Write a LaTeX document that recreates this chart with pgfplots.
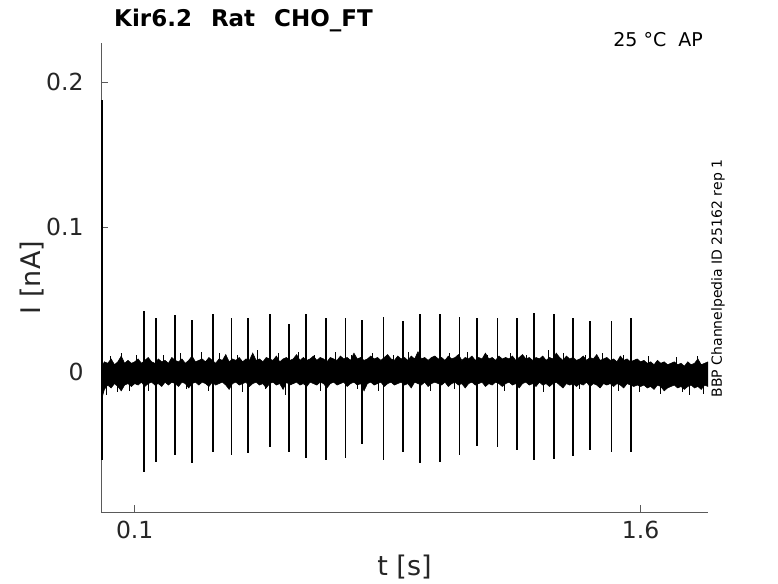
\documentclass[border=0pt]{standalone}
\usepackage{pgfplots}
\pgfplotsset{compat=1.18}
\usepackage{pgfplotstable}
\usepgfplotslibrary{fillbetween}
\usepackage{fontspec}
\setmainfont{DejaVu Sans}
\definecolor{axisgray}{HTML}{5A5A5A}
\definecolor{txt}{HTML}{262626}

\pgfplotstableread{
t up lo
0.003 0.004 -0.018
0.01 0.007 -0.012
0.02 0.006 -0.009
0.03 0.009 -0.011
0.04 0.005 -0.008
0.05 0.007 -0.010
0.06 0.011 -0.013
0.07 0.006 -0.009
0.08 0.008 -0.008
0.09 0.006 -0.010
0.10 0.007 -0.008
0.11 0.009 -0.009
0.12 0.006 -0.007
0.13 0.008 -0.010
0.14 0.010 -0.008
0.15 0.007 -0.007
0.16 0.006 -0.009
0.17 0.009 -0.008
0.18 0.007 -0.010
0.19 0.008 -0.007
0.20 0.006 -0.009
0.21 0.010 -0.007
0.22 0.008 -0.008
0.23 0.007 -0.010
0.24 0.009 -0.007
0.25 0.006 -0.008
0.26 0.008 -0.011
0.27 0.011 -0.008
0.28 0.007 -0.007
0.29 0.008 -0.009
0.30 0.009 -0.007
0.31 0.007 -0.008
0.32 0.010 -0.010
0.33 0.008 -0.007
0.34 0.006 -0.009
0.35 0.009 -0.008
0.36 0.008 -0.007
0.37 0.012 -0.009
0.38 0.007 -0.012
0.39 0.009 -0.008
0.40 0.008 -0.007
0.41 0.010 -0.009
0.42 0.007 -0.008
0.43 0.009 -0.007
0.44 0.008 -0.010
0.45 0.013 -0.008
0.46 0.008 -0.007
0.47 0.009 -0.009
0.48 0.007 -0.008
0.49 0.010 -0.011
0.50 0.009 -0.008
0.51 0.008 -0.007
0.52 0.011 -0.009
0.53 0.007 -0.008
0.54 0.009 -0.012
0.55 0.010 -0.007
0.56 0.008 -0.009
0.57 0.009 -0.008
0.58 0.012 -0.007
0.59 0.008 -0.009
0.60 0.010 -0.008
0.61 0.008 -0.010
0.62 0.009 -0.007
0.63 0.011 -0.008
0.64 0.008 -0.009
0.65 0.010 -0.007
0.66 0.009 -0.008
0.67 0.007 -0.011
0.68 0.010 -0.008
0.69 0.009 -0.007
0.70 0.008 -0.009
0.71 0.011 -0.008
0.72 0.009 -0.007
0.73 0.010 -0.010
0.74 0.008 -0.008
0.75 0.013 -0.007
0.76 0.009 -0.009
0.77 0.010 -0.008
0.78 0.008 -0.013
0.79 0.009 -0.008
0.80 0.011 -0.007
0.81 0.009 -0.009
0.82 0.010 -0.008
0.83 0.008 -0.007
0.84 0.010 -0.010
0.85 0.012 -0.008
0.86 0.009 -0.007
0.87 0.008 -0.009
0.88 0.011 -0.008
0.89 0.009 -0.007
0.90 0.010 -0.009
0.91 0.008 -0.008
0.92 0.011 -0.011
0.93 0.009 -0.007
0.94 0.014 -0.008
0.95 0.009 -0.009
0.96 0.010 -0.007
0.97 0.008 -0.010
0.98 0.010 -0.008
0.99 0.011 -0.007
1.00 0.009 -0.008
1.01 0.010 -0.009
1.02 0.008 -0.007
1.03 0.011 -0.010
1.04 0.009 -0.008
1.05 0.010 -0.007
1.06 0.012 -0.009
1.07 0.008 -0.008
1.08 0.010 -0.011
1.09 0.009 -0.008
1.10 0.011 -0.007
1.11 0.008 -0.009
1.12 0.010 -0.008
1.13 0.009 -0.007
1.14 0.013 -0.010
1.15 0.009 -0.008
1.16 0.010 -0.009
1.17 0.008 -0.007
1.18 0.011 -0.008
1.19 0.009 -0.010
1.20 0.010 -0.008
1.21 0.009 -0.007
1.22 0.011 -0.009
1.23 0.008 -0.008
1.24 0.010 -0.011
1.25 0.012 -0.008
1.26 0.009 -0.007
1.27 0.010 -0.009
1.28 0.008 -0.008
1.29 0.010 -0.010
1.30 0.009 -0.007
1.31 0.011 -0.009
1.32 0.008 -0.008
1.33 0.010 -0.010
1.34 0.009 -0.008
1.35 0.013 -0.007
1.36 0.010 -0.009
1.37 0.008 -0.011
1.38 0.011 -0.008
1.39 0.009 -0.009
1.40 0.010 -0.008
1.41 0.008 -0.010
1.42 0.009 -0.008
1.43 0.011 -0.009
1.44 0.008 -0.007
1.45 0.010 -0.010
1.46 0.009 -0.008
1.47 0.012 -0.009
1.48 0.008 -0.011
1.49 0.009 -0.008
1.50 0.010 -0.009
1.51 0.008 -0.008
1.52 0.009 -0.010
1.53 0.007 -0.008
1.54 0.011 -0.009
1.55 0.008 -0.011
1.56 0.009 -0.008
1.57 0.007 -0.009
1.58 0.008 -0.010
1.59 0.009 -0.009
1.60 0.007 -0.010
1.61 0.008 -0.009
1.62 0.006 -0.011
1.63 0.007 -0.010
1.64 0.005 -0.012
1.65 0.008 -0.009
1.66 0.006 -0.010
1.67 0.007 -0.013
1.68 0.005 -0.011
1.69 0.006 -0.010
1.70 0.007 -0.009
1.71 0.005 -0.011
1.72 0.006 -0.010
1.73 0.004 -0.012
1.74 0.007 -0.010
1.75 0.005 -0.009
1.76 0.006 -0.011
1.77 0.009 -0.010
1.78 0.005 -0.012
1.79 0.006 -0.009
1.80 0.007 -0.010
}\band

\pgfplotstableread{
t top bot
0.002 0.188 -0.061
0.128 0.042 -0.069
0.164 0.037 -0.062
0.220 0.039 -0.057
0.270 0.036 -0.063
0.331 0.040 -0.055
0.387 0.037 -0.057
0.437 0.037 -0.056
0.500 0.040 -0.052
0.558 0.033 -0.055
0.609 0.040 -0.059
0.668 0.037 -0.061
0.725 0.037 -0.059
0.775 0.036 -0.050
0.838 0.038 -0.061
0.896 0.035 -0.055
0.947 0.040 -0.063
1.006 0.040 -0.062
1.063 0.038 -0.057
1.114 0.037 -0.051
1.176 0.037 -0.052
1.234 0.037 -0.054
1.285 0.041 -0.061
1.344 0.040 -0.060
1.400 0.037 -0.058
1.451 0.035 -0.054
1.514 0.035 -0.055
1.572 0.037 -0.055
}\spikes

\pgfplotstableread{
t v
0.015 -0.016
0.027 0.011
0.048 -0.014
0.062 0.013
0.083 -0.013
0.105 0.012
0.142 -0.013
0.185 0.012
0.236 0.013
0.252 -0.012
0.297 0.014
0.318 -0.013
0.352 0.013
0.405 0.012
0.418 -0.014
0.463 0.015
0.487 -0.012
0.525 0.013
0.547 -0.016
0.586 0.014
0.632 0.012
0.652 -0.013
0.694 0.014
0.743 0.012
0.761 -0.012
0.806 0.013
0.822 -0.013
0.867 0.012
0.912 0.014
0.978 -0.013
1.032 0.013
1.048 -0.012
1.087 0.014
1.147 0.012
1.196 -0.013
1.213 0.013
1.262 0.012
1.312 -0.014
1.328 0.015
1.372 0.013
1.418 -0.012
1.437 0.012
1.486 0.013
1.533 -0.013
1.548 0.012
1.596 -0.014
1.623 0.011
1.658 -0.015
1.706 0.010
1.724 -0.014
1.745 -0.016
1.768 0.011
1.787 -0.015
}\hairs

\begin{document}
\begin{tikzpicture}
\begin{axis}[
  at={(101pt,71pt)}, anchor=south west,
  scale only axis, width=607pt, height=469pt,
  xmin=0, xmax=1.8, ymin=-0.0966, ymax=0.227,
  clip mode=individual,
  axis x line=bottom, axis y line=left,
  axis line style={draw=axisgray, line width=0.8pt, -},
  tick align=inside,
  major tick length=7pt,
  tick style={draw=axisgray, line width=0.8pt},
  xtick={0.1,1.6}, ytick={0,0.1,0.2},
  /pgf/number format/assume math mode=true,
  /pgf/number format/fixed,
  ticklabel style={font=\fontsize{23.5}{27}\selectfont, text=txt},
  xticklabel style={yshift=-6pt},
  yticklabel style={xshift=-14pt},
  xlabel={t [s]}, ylabel={I [nA]},
  every axis x label/.style={at={(axis description cs:0.5,0)}, yshift=-55pt, anchor=center, font=\fontsize{27}{32}\selectfont, text=txt},
  every axis y label/.style={at={(axis description cs:0,0.5)}, xshift=-69pt, rotate=90, anchor=center, font=\fontsize{27}{32}\selectfont, text=txt},
]
\addplot[name path=up, draw=black, line width=0.6pt] table[x=t, y=up] {\band};
\addplot[name path=lo, draw=black, line width=0.6pt] table[x=t, y=lo] {\band};
\addplot[fill=black, draw=none] fill between[of=up and lo];
\addplot[ycomb, draw=black, line width=0.9pt, mark=none] table[x=t, y=v] {\hairs};
\addplot[ycomb, draw=black, line width=1.8pt, mark=none] table[x=t, y=top] {\spikes};
\addplot[ycomb, draw=black, line width=1.8pt, mark=none] table[x=t, y=bot] {\spikes};
\node[anchor=base west, inner sep=0, font=\fontsize{23}{27}\selectfont\bfseries] at (rel axis cs:0,1) [xshift=13pt, yshift=16pt] {Kir6.2\hspace{19pt}Rat\hspace{19pt}CHO\_FT};
\node[anchor=base east, inner sep=0, font=\fontsize{19}{23}\selectfont] at (rel axis cs:1,1) [xshift=-5pt, yshift=-4pt] {25 °C\hspace{12pt}AP};
\node[anchor=north, rotate=90, inner sep=0, font=\fontsize{14}{17}\selectfont] at (rel axis cs:1,0.5) [xshift=-1pt, yshift=-3pt] {BBP Channelpedia ID 25162 rep 1};
\end{axis}
\path (0,0) rectangle (778pt,583pt);
\end{tikzpicture}
\end{document}
